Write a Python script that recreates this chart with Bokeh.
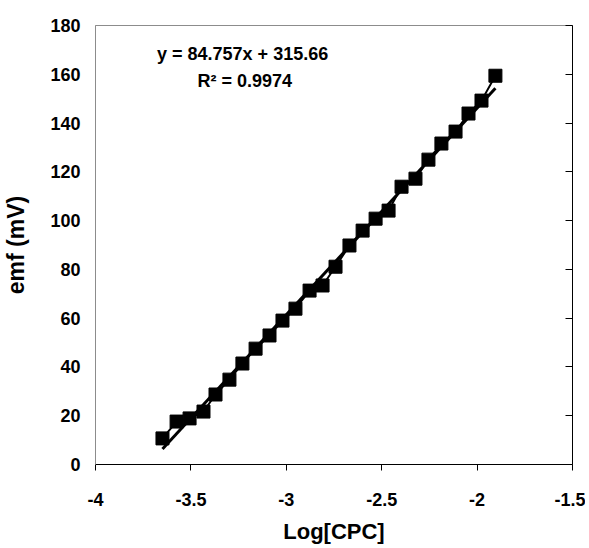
from bokeh.plotting import figure
from bokeh.models import LinearAxis, FixedTicker, Label, Range1d
from bokeh.embed import file_html
from bokeh.resources import INLINE

log_cpc = [-3.649, -3.575, -3.507, -3.434, -3.371, -3.298, -3.230, -3.161, -3.088,
           -3.020, -2.952, -2.878, -2.810, -2.742, -2.669, -2.600, -2.532, -2.464,
           -2.396, -2.323, -2.255, -2.187, -2.113, -2.045, -1.977, -1.904]
emf = [10.7, 17.6, 18.9, 21.7, 28.7, 34.8, 41.4, 47.5, 52.9,
       59.0, 63.9, 71.3, 73.4, 81.1, 89.8, 95.9, 100.8, 104.1,
       113.9, 117.2, 125.0, 131.6, 136.5, 143.9, 149.2, 159.4]

slope = 84.757
intercept = 315.66
r_squared = "0.9974"

x_ticks = [-4, -3.5, -3, -2.5, -2, -1.5]
x_tick_labels = ["-4", "-3.5", "-3", "-2.5", "-2", "-1.5"]
y_ticks = [0, 20, 40, 60, 80, 100, 120, 140, 160, 180]

FONT = "Liberation Sans"
GRAY = "#8c8c8c"

p = figure(width=585, height=545, output_backend="svg", toolbar_location=None,
           x_range=Range1d(-4, -1.5), y_range=Range1d(0, 180),
           x_axis_location=None, y_axis_location=None,
           min_border_left=95, min_border_right=13, min_border_top=25, min_border_bottom=81)
p.frame_width = 477
p.frame_height = 439
p.xgrid.visible = False
p.ygrid.visible = False
p.outline_line_color = GRAY
p.outline_line_width = 1
p.background_fill_color = "white"
p.border_fill_color = "white"

# bottom axis
xa = LinearAxis(ticker=FixedTicker(ticks=x_ticks),
                major_label_overrides={t: l for t, l in zip(x_ticks, x_tick_labels)})
xa.axis_label = "Log[CPC]"
xa.axis_line_color = "black"
xa.axis_line_width = 1
xa.major_tick_line_color = "black"
xa.major_tick_in = 0
xa.major_tick_out = 6
xa.minor_tick_line_color = None
xa.major_label_standoff = 22
xa.major_label_text_font = FONT
xa.major_label_text_font_style = "bold"
xa.major_label_text_font_size = "18px"
xa.major_label_text_color = "black"
xa.axis_label_text_font = FONT
xa.axis_label_text_font_style = "bold"
xa.axis_label_text_font_size = "22px"
xa.axis_label_text_color = "black"
xa.axis_label_standoff = 10
p.add_layout(xa, "below")

# left axis: labels only, gray line (plot border)
ya = LinearAxis(ticker=FixedTicker(ticks=y_ticks))
ya.axis_label = "emf (mV)"
ya.axis_line_color = GRAY
ya.major_tick_line_color = None
ya.minor_tick_line_color = None
ya.major_tick_in = 0
ya.major_tick_out = 0
ya.major_label_standoff = 15
ya.major_label_text_font = FONT
ya.major_label_text_font_style = "bold"
ya.major_label_text_font_size = "18px"
ya.major_label_text_color = "black"
ya.axis_label_text_font = FONT
ya.axis_label_text_font_style = "bold"
ya.axis_label_text_font_size = "23px"
ya.axis_label_text_color = "black"
ya.axis_label_standoff = 18
p.add_layout(ya, "left")

# right axis: black line with inward ticks, no labels
yr = LinearAxis(ticker=FixedTicker(ticks=y_ticks),
                major_label_overrides={t: "" for t in y_ticks})
yr.axis_line_color = "black"
yr.major_tick_line_color = "black"
yr.minor_tick_line_color = None
yr.major_tick_in = 7
yr.major_tick_out = 0
yr.major_label_text_color = None
yr.major_label_standoff = 0
p.add_layout(yr, "right")

# data
p.line(log_cpc, emf, line_color="black", line_width=2)
p.scatter(log_cpc, emf, marker="square", size=13, fill_color="black", line_color="black")

# trendline
x0, x1 = min(log_cpc), max(log_cpc)
p.line([x0, x1], [slope * x0 + intercept, slope * x1 + intercept],
       line_color="black", line_width=3)

eq = Label(x=-3.229, y=168.4, text=f"y = {slope}x + {intercept}",
           text_font=FONT, text_font_style="bold", text_font_size="18px",
           text_align="center", text_baseline="middle", text_color="black")
r2 = Label(x=-3.218, y=157.4, text=f"R\u00b2 = {r_squared}",
           text_font=FONT, text_font_style="bold", text_font_size="18px",
           text_align="center", text_baseline="middle", text_color="black")
p.add_layout(eq)
p.add_layout(r2)

open("out.html", "w").write(file_html(p, INLINE))
